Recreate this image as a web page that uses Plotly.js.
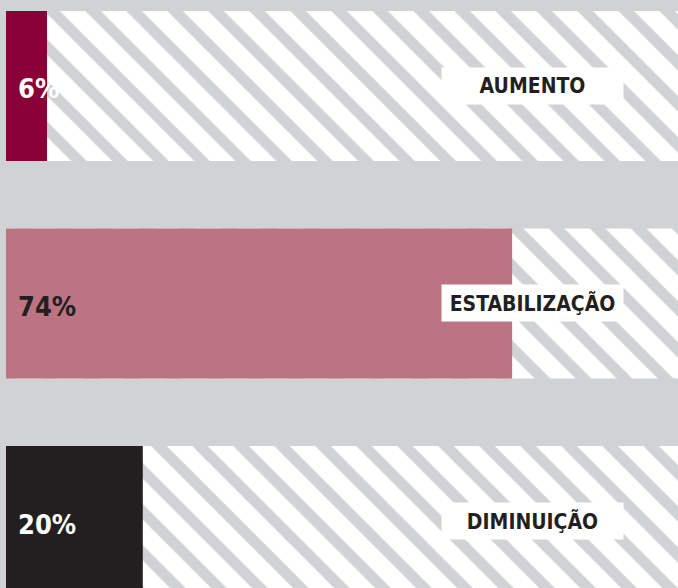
<!DOCTYPE html>
<html>
<head>
<meta charset="utf-8">
<script src="https://cdn.plot.ly/plotly-3.0.1.min.js"></script>
<style>html,body{margin:0;padding:0;background:#d1d2d4;}#chart{width:678px;height:588px;}</style>
</head>
<body>
<div id="chart"></div>
<script>
// Data
const categories = ["AUMENTO", "ESTABILIZAÇÃO", "DIMINUIÇÃO"];
const values = [6, 74, 20];
const labels = ["6%", "74%", "20%"];
const total = [100, 100, 100];

const barColors = ["#8a0036", "#bd7482", "#231f20"];
const valueTextColors = ["#ffffff", "#231f20", "#ffffff"];
const fontFamily = "'Liberation Sans Narrow', 'DejaVu Sans Condensed', 'Arial Narrow', sans-serif";

const traces = [
  {
    type: "bar", orientation: "h",
    x: total, y: categories,
    width: 0.69,
    marker: {
      color: "#ffffff",
      line: {width: 0},
      pattern: {shape: "\\", fgcolor: "#d1d2d4", fgopacity: 1, bgcolor: "#ffffff", size: 29, solidity: 0.38, fillmode: "replace"}
    },
    hoverinfo: "skip"
  },
  {
    type: "bar", orientation: "h",
    x: values, y: categories,
    width: 0.69,
    marker: {color: barColors, line: {width: 0}},
    hoverinfo: "skip"
  }
];

const annotations = [];
categories.forEach((c, i) => {
  annotations.push({
    xref: "paper", yref: "y", x: 532.5 / 678, y: c,
    text: "<b>" + c + "</b>", showarrow: false,
    bgcolor: "#ffffff", width: 175, height: 30, borderpad: 3,
    font: {family: fontFamily, size: 21, color: "#231f20"},
    xanchor: "center", yanchor: "middle"
  });
  annotations.push({
    xref: "paper", yref: "y", x: 16 / 678, y: c,
    text: "<b>" + labels[i] + "</b>", showarrow: false,
    font: {family: fontFamily, size: 27, color: valueTextColors[i]},
    xanchor: "left", yanchor: "middle", yshift: -3
  });
});

const layout = {
  width: 678, height: 588,
  margin: {l: 0, r: 0, t: 0, b: 0},
  paper_bgcolor: "#d1d2d4", plot_bgcolor: "#d1d2d4",
  barmode: "overlay",
  showlegend: false,
  xaxis: {range: [-0.877, 98.25], visible: false, fixedrange: true},
  yaxis: {range: [2.308, -0.395], visible: false, fixedrange: true},
  annotations: annotations
};

Plotly.newPlot("chart", traces, layout, {displayModeBar: false, staticPlot: true});
</script>
</body>
</html>
